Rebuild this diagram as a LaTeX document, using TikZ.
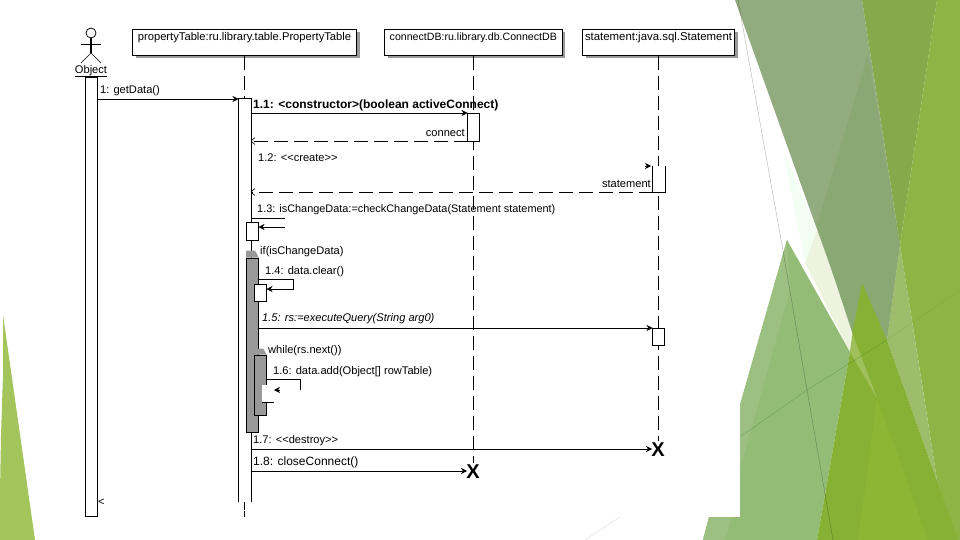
\documentclass[tikz,border=0pt]{standalone}
\usepackage{fontspec}
\setmainfont{Liberation Sans}
\usetikzlibrary{shadows, arrows.meta, positioning}
\definecolor{blockgray}{HTML}{999999}
\tikzstyle{arrow}     = [semithick,-{Stealth[length=6pt,width=6pt]}]
\tikzstyle{reply}     = [semithick,-{Straight Barb[length=4pt,width=7pt]},dash pattern=on 14pt off 6pt]
\tikzstyle{selfcall}  = [semithick]
\tikzstyle{lifeline}  = [semithick,dash pattern=on 14pt off 6pt]
\tikzstyle{lifebox}   = [semithick, draw, fill=white, inner sep=0pt, text height=11pt, text depth=15pt, align=center, font=\fontsize{11.2}{13}\selectfont, drop shadow={shadow xshift=3pt,shadow yshift=-3pt,fill=blockgray,opacity=1}]
\tikzstyle{active}    = [semithick, draw, fill=white, inner sep=0pt, minimum width=12pt]
\tikzstyle{block}     = [semithick, draw, fill=blockgray, inner sep=0pt, minimum width=12pt]
\tikzstyle{msg}       = [inner sep=0pt, anchor=west, font=\fontsize{11.1}{13}\selectfont]
\tikzstyle{cross}     = [inner sep=0pt, font=\fontsize{20}{20}\selectfont\bfseries]

\begin{document}
\begin{tikzpicture}[x=1pt,y=-1pt]
\useasboundingbox (0,0) rectangle (960,540);

% slide background
\fill[white] (0,0) rectangle (960,540);
\fill[green!20!white,opacity=.25] (783,150) -- (817,230) -- (805,263) -- cycle;
\fill[fill={rgb,255:red,238;green,243;blue,224}] (817,230) -- (853,330) -- (850,352) -- (805,263) -- cycle;
\fill[fill={rgb,255:red,146;green,171;blue,127}] (735,0) -- (862,0) -- (900,245) -- (887,340) -- (853,330) -- cycle;
\fill[fill={rgb,255:red,138;green,168;blue,116}] (868,55) -- (900,245) -- (887,340) -- (853,335) -- (817,225) -- cycle;
\fill[fill={rgb,255:red,134;green,169;blue,75}] (862,0) -- (937,0) -- (900,245) -- cycle;
\fill[fill={rgb,255:red,157;green,188;blue,108}] (900,245) -- (937,480) -- (958,540) -- (887,340) -- cycle;
\fill[fill={rgb,255:red,143;green,180;blue,70}] (937,0) -- (960,0) -- (960,540) -- (955,540) -- (937,480) -- (923,390) -- (900,245) -- cycle;
\fill[fill={rgb,255:red,147;green,188;blue,119}] (787,240) -- (740,405) -- (740,517) -- (709,517) -- (703,540) -- (817,540) -- (850,352) -- cycle;
\fill[fill={rgb,255:red,155;green,192;blue,130}] (787,240) -- (740,405) -- (740,470) -- (790,290) -- cycle;
\fill[fill={rgb,255:red,155;green,192;blue,130}] (709,517) -- (703,540) -- (725,540) -- (732,517) -- cycle;
\fill[fill={rgb,255:red,135;green,177;blue,52}] (862,283) -- (887,340) -- (958,540) -- (817,540) -- (850,352) -- (853,330) -- cycle;
\fill[fill={rgb,255:red,160;green,192;blue,92}] (853,335) -- (877,398) -- (850,352) -- cycle;
\fill[fill={rgb,255:red,142;green,182;blue,53}] (877,398) -- (928,540) -- (858,540) -- cycle;
\fill[fill={rgb,255:red,164;green,196;blue,92}] (3,315) -- (35,540) -- (0,540) -- (0,493) -- (1,435) -- (3,375) -- cycle;
\draw[black,opacity=.3] (738,0) -- (782,245) -- (807,390) -- (833,540);
\draw[green!40!black,opacity=.3] (740,437) -- (807,390) -- (887,340);
\draw[green!40!black,opacity=.1] (887,340) -- (960,290);
\draw[black!15] (585,540) -- (620,517);

% actor
\draw[thick,fill=white] (91,33) circle (5);
\draw[thick] (81,44) -- (101,44);
\draw[very thick] (91,38) -- (91,53);
\draw[semithick] (81,63) -- (91,53) -- (101,63);
\node[msg,anchor=center] (actorName) at (91,70.5) {Object};
\draw[semithick] (75,76.5) -- (107,76.5);

% objects
\node[lifebox,minimum width=224pt] (propBox) at (244.5,42.5) {propertyTable:ru.library.table.PropertyTable};
\node[lifebox,minimum width=177.5pt,font=\fontsize{10.6}{13}\selectfont] (connBox) at (473.3,42.5) {connectDB:ru.library.db.ConnectDB};
\node[lifebox,minimum width=152pt,font=\fontsize{11.4}{13}\selectfont] (stmtBox) at (658.5,42.5) {statement:java.sql.Statement};

% lifelines
\coordinate (propEnd) at (244,517);
\coordinate (propTail) at (244,505);
\coordinate (connEnd) at (473.5,463);
\coordinate (stmtEnd) at (658,441);
\draw[lifeline] (propBox.south -| propEnd) -- (propEnd);
\draw[lifeline] (connBox.south -| connEnd) -- (connEnd);
\draw[lifeline] (stmtBox.south -| stmtEnd) -- (stmtEnd);

% activations
\node[active,minimum height=439pt] (A0) at (91.5,296.5) {};
\node[active,minimum height=403pt,draw=none] (A1) at (244.5,300.5) {};
\draw[semithick] (A1.south west) -- (A1.north west) -- (A1.north east) -- (A1.south east);
\draw[semithick,dash pattern=on 1.5pt off 4pt on 8pt] (propTail) -- (propEnd);
\node[active,minimum height=28pt] (A2) at (473.5,127) {};
\node[active,draw=none,minimum height=26pt] (A3) at (658.5,179) {};
\draw[semithick] (A3.north west) -- (A3.south west) -- (A3.south east) -- (A3.north east);
\node[active,minimum height=18pt] (A4) at (252.5,231) {};
\node[block,minimum height=174pt] (B1) at (252.5,345) {};
\fill[blockgray] (B1.north west) -- ++(0,-7) -- ++(9,0) -- (B1.north east) -- cycle;
\node[active,minimum height=16.5pt] (A5) at (260.5,292.8) {};
\node[active,minimum height=17pt] (A6) at (658.5,336.5) {};
\node[block,minimum height=60pt] (B2) at (260.5,385) {};
\fill[blockgray] (B2.north west) -- ++(0,-6) -- ++(9,0) -- (B2.north east) -- cycle;
\node[active,draw=none,minimum height=17pt] (A7) at (268,393.5) {};
\draw[semithick] (A7.south west) -- (A7.south east);

% free ends of the messages
\coordinate (M1a) at (97.5,99);
\coordinate (M1b) at (238.5,99);
\coordinate (M2a) at (250.5,113);
\coordinate (M2b) at (467.5,113);
\coordinate (M3a) at (467.5,141);
\coordinate (M3b) at (250.5,141);
\coordinate (M4a) at (645,166);
\coordinate (M4b) at (651,166);
\coordinate (M5a) at (652.5,192);
\coordinate (M5b) at (250.5,192);
\coordinate (M6a) at (250.5,218);
\coordinate (M6b) at (285,218);
\coordinate (M6c) at (285,227);
\coordinate (M6d) at (258.5,227);
\coordinate (M7a) at (258.5,279);
\coordinate (M7b) at (293,279);
\coordinate (M7c) at (293,289);
\coordinate (M7d) at (266.5,289);
\coordinate (M8a) at (258.5,328);
\coordinate (M8b) at (652.5,328);
\coordinate (M9a) at (266.5,379);
\coordinate (M9b) at (300.5,379);
\coordinate (M9c) at (300.5,390);
\coordinate (M9d) at (280,390);
\coordinate (M9e) at (274,390);
\coordinate (M10a) at (250.5,449);
\coordinate (M10b) at (652,449);
\coordinate (M11a) at (250.5,471);
\coordinate (M11b) at (467,471);

\draw[arrow] (M1a) -- (M1b);
\draw[arrow] (M2a) -- (M2b);
\draw[reply] (M3a) -- (M3b);
\draw[arrow] (M4a) -- (M4b);
\draw[reply] (M5a) -- (M5b);
\draw[selfcall] (M6a) -- (M6b);
\draw[arrow] (M6c) -- (M6d);
\draw[arrow] (M7a) -- (M7b) -- (M7c) -- (M7d);
\draw[arrow] (M8a) -- (M8b);
\draw[selfcall] (M9a) -- (M9b) -- (M9c);
\draw[arrow] (M9d) -- (M9e);
\draw[arrow] (M10a) -- (M10b);
\draw[arrow] (M11a) -- (M11b);

% labels
\node[msg] (L1) at (100,91) {1: getData()};
\node[msg,font=\fontsize{12}{14}\selectfont] (L2) at (253,105) {\textbf{1.1: <constructor>(boolean activeConnect)}};
\node[msg,anchor=east] (L3) at (465,133) {connect};
\node[msg] (L4) at (258,158) {1.2: <{}<create>{}>};
\node[msg,anchor=east] (L5) at (651,184) {statement};
\node[msg,font=\fontsize{10.9}{13}\selectfont] (L6) at (257,210) {1.3: isChangeData:=checkChangeData(Statement statement)};
\node[msg] (L7) at (260,252) {if(isChangeData)};
\node[msg] (L8) at (265,272) {1.4: data.clear()};
\node[msg] (L9) at (262,319) {\itshape 1.5: rs:=executeQuery(String arg0)};
\node[msg] (L10) at (268,351) {while(rs.next())};
\node[msg] (L11) at (273,372) {1.6: data.add(Object[] rowTable)};
\node[msg] (L12) at (253,441) {1.7: <{}<destroy>{}>};
\node[msg,font=\fontsize{12}{14}\selectfont] (L13) at (253,462) {1.8: closeConnect()};
\node[msg] (L14) at (98,502) {<};

\node[cross] (X1) at (658,450) {X};
\node[cross] (X2) at (473,472) {X};

\end{tikzpicture}
\end{document}
